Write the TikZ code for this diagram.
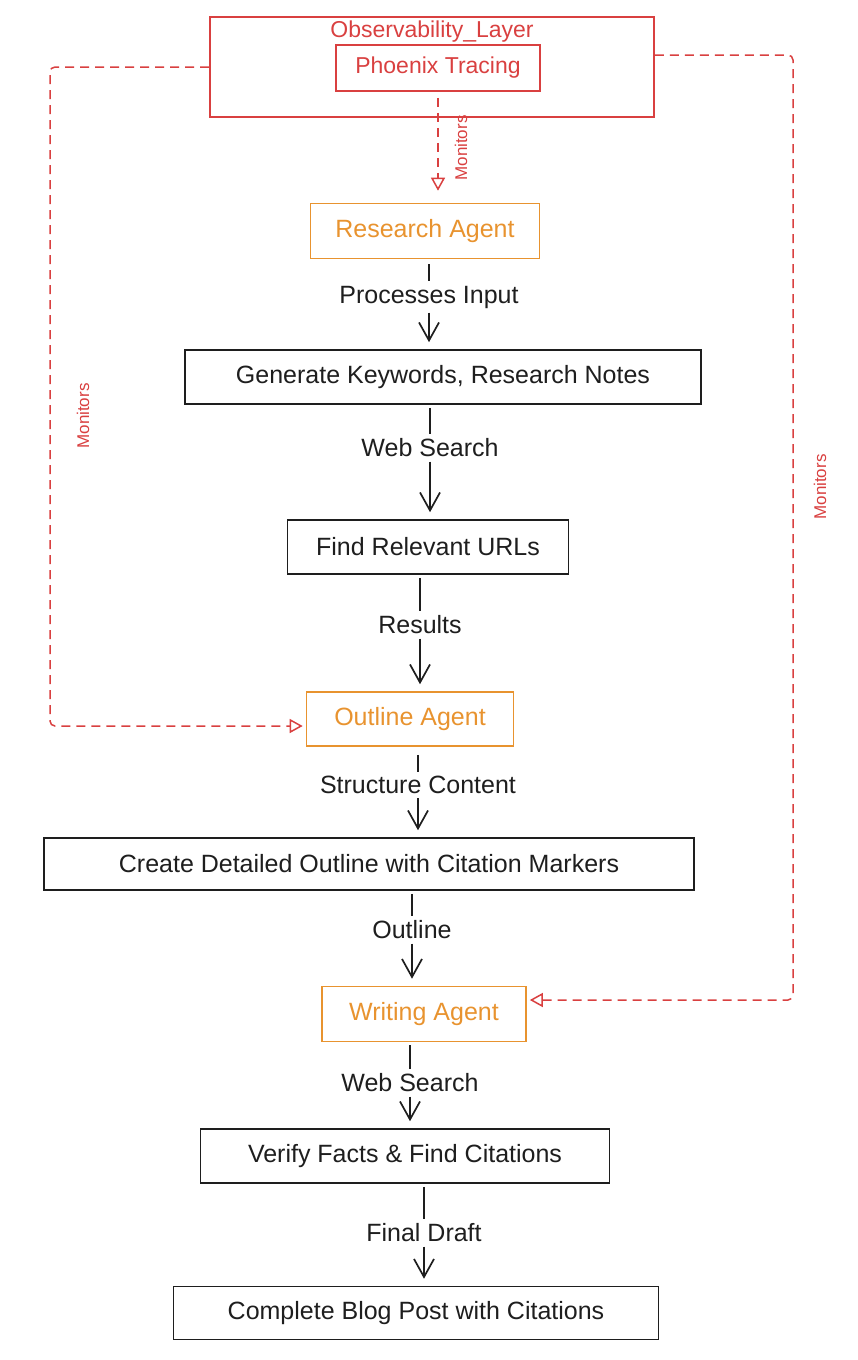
\documentclass[tikz,border=0pt]{standalone}
\usepackage{fontspec}
\setmainfont{Liberation Sans}
\usetikzlibrary{arrows.meta}
\definecolor{monred}{HTML}{D94040}
\definecolor{agentorange}{HTML}{E8932F}
\definecolor{inkblack}{HTML}{1E1E1E}

\begin{document}
\begin{tikzpicture}[x=1pt, y=-1pt, thick,
  box/.style={draw=inkblack, line width=1.6pt, minimum height=54pt, inner sep=0pt, text=inkblack, font=\fontsize{25}{29}\selectfont},
  agent/.style={box, draw=agentorange, text=agentorange},
  lbl/.style={text=inkblack, inner sep=4pt, font=\fontsize{25}{29}\selectfont},
  link/.style={draw=inkblack, line width=1.7pt},
  flow/.style={link, -{Straight Barb[length=18pt,width=20pt]}, shorten >=7pt},
  mon/.style={draw=monred, line width=1.5pt, dash pattern=on 9pt off 6pt, rounded corners=5pt, -{Triangle[open,length=13pt,width=14pt]}},
  montxt/.style={text=monred, font=\fontsize{17}{19}\selectfont, rotate=90}]
  \useasboundingbox (0,0) rectangle (858,1360);

  % observability layer
  \node[draw=monred, line width=1.6pt, minimum width=444pt, minimum height=100pt] (obs) at (432,67) {};
  \node[text=monred, inner sep=0pt, font=\fontsize{23}{27}\selectfont] (obsname) at (432,32) {Observability\_Layer};
  \node[box, draw=monred, text=monred, minimum width=204pt, minimum height=46pt, font=\fontsize{23}{27}\selectfont] (pt) at (438,68) {Phoenix Tracing};

  % main flow
  \node[agent, minimum width=229pt, minimum height=55pt] (ra) at (425,231) {Research Agent};
  \node[box, minimum width=516pt] (gk) at (443,377) {Generate Keywords, Research Notes};
  \node[box, minimum width=281pt] (fu) at (428,547) {Find Relevant URLs};
  \node[agent, minimum width=207pt] (oa) at (410,719) {Outline Agent};
  \node[box, minimum width=650pt, minimum height=52pt] (co) at (369,864) {Create Detailed Outline with Citation Markers};
  \node[agent, minimum width=204pt, minimum height=55pt] (wa) at (424,1014) {Writing Agent};
  \node[box, minimum width=409pt] (vf) at (405,1156) {Verify Facts \& Find Citations};
  \node[box, minimum width=485pt, minimum height=53pt] (bp) at (416,1313) {Complete Blog Post with Citations};

  \node[lbl] (l1) at (429,297) {Processes Input};
  \node[lbl] (l2) at (430,448) {Web Search};
  \node[lbl] (l3) at (420,625) {Results};
  \node[lbl] (l4) at (418,785) {Structure Content};
  \node[lbl] (l5) at (412,930) {Outline};
  \node[lbl] (l6) at (410,1083) {Web Search};
  \node[lbl] (l7) at (424,1233) {Final Draft};

  \draw[link, shorten <=5pt] (ra.south -| l1) -- (l1);
  \draw[flow] (l1) -- (l1 |- gk.north);
  \draw[link, shorten <=3pt] (gk.south -| l2) -- (l2);
  \draw[flow] (l2) -- (l2 |- fu.north);
  \draw[link, shorten <=3pt] (fu.south -| l3) -- (l3);
  \draw[flow] (l3) -- (l3 |- oa.north);
  \draw[link, shorten <=8pt] (oa.south -| l4) -- (l4);
  \draw[flow] (l4) -- (l4 |- co.north);
  \draw[link, shorten <=3pt] (co.south -| l5) -- (l5);
  \draw[flow] (l5) -- (l5 |- wa.north);
  \draw[link, shorten <=3pt] (wa.south -| l6) -- (l6);
  \draw[flow] (l6) -- (l6 |- vf.north);
  \draw[link, shorten <=3pt] (vf.south -| l7) -- (l7);
  \draw[flow] (l7) -- (l7 |- bp.north);

  % monitoring
  \draw[mon, shorten <=6pt, shorten >=12pt] (pt.south) -- (pt.south |- ra.north);
  \node[montxt] (m1) at (461,148) {Monitors};
  \coordinate (lc) at (50,67);
  \draw[mon, shorten >=3pt] (obs.west) -- (lc) |- ([yshift=-7pt]oa.west);
  \node[montxt] (m2) at (83,416) {Monitors};
  \coordinate (rc) at (793,55);
  \draw[mon, shorten >=3pt] ([yshift=12pt]obs.east) -- (rc) |- ([yshift=14pt]wa.east);
  \node[montxt] (m3) at (820,487) {Monitors};
\end{tikzpicture}
\end{document}
